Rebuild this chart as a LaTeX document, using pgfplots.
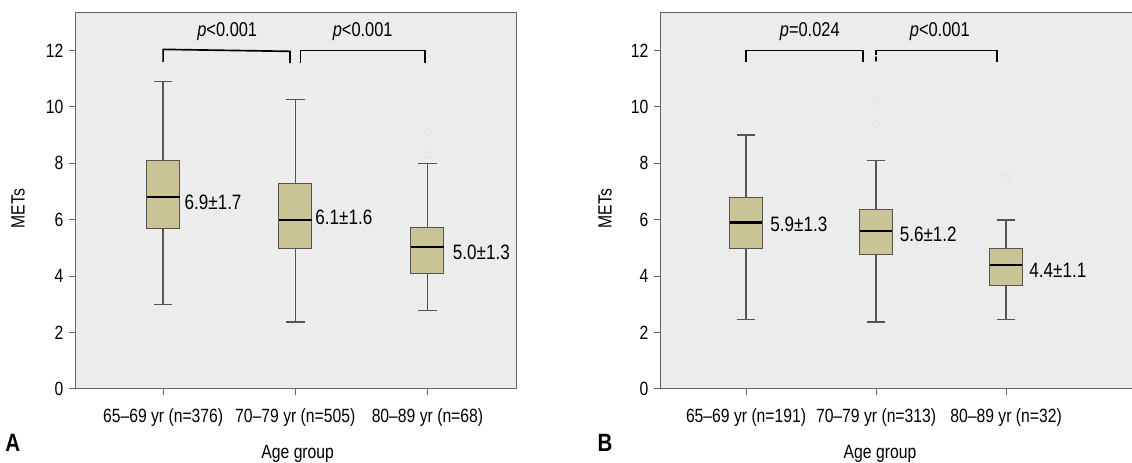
\documentclass[border=0pt]{standalone}
\usepackage{fontspec}
\setmainfont{Liberation Sans}[FakeStretch=0.82]
\usepackage{pgfplots}
\pgfplotsset{compat=1.18}
\usepgfplotslibrary{statistics}
\definecolor{bgGray}{RGB}{236,236,236}
\definecolor{boxFill}{RGB}{201,196,150}
\definecolor{boxLine}{RGB}{85,85,80}
\definecolor{frameGray}{RGB}{100,100,100}
\definecolor{outl}{RGB}{222,230,240}

\pgfplotsset{
  metbox/.style={
    scale only axis,
    height=225.6pt,
    ymin=0, ymax=13.33,
    ytick={0,2,...,12},
    xtick={1,2,3},
    tick align=outside,
    xtick pos=bottom, ytick pos=left,
    major tick length=3.5pt,
    axis background/.style={fill=bgGray},
    axis line style={draw=frameGray, line width=0.6pt},
    every tick/.style={draw=frameGray, line width=0.6pt},
    tick label style={font=\fontsize{11.5}{13}\selectfont},
    /pgf/number format/assume math mode=true,
    xticklabel style={yshift=-5pt},
    label style={font=\fontsize{11.5}{13}\selectfont},
    xlabel={Age group},
    ylabel={METs},
    boxplot/draw direction=y,
    boxplot/box extend=0.25,
    boxplot/whisker extend=0.14,
    boxplot/every box/.style={draw=boxLine, fill=boxFill, line width=0.6pt},
    boxplot/every whisker/.style={draw=boxLine, line width=0.8pt},
    boxplot/every median/.style={draw=black, line width=1.4pt},
    clip=false,
  },
  bx/.style={solid, mark=o, mark size=2pt, mark options={draw=outl, line width=0.8pt}},
}

\begin{document}
\begin{tikzpicture}
% ---------- panel A ----------
\begin{axis}[metbox,
    at={(45pt,44.4pt)}, anchor=south west,
    width=264.6pt,
    xmin=0.333, xmax=3.67,
    xticklabels={65--69 yr (n=376), 70--79 yr (n=505), 80--89 yr (n=68)},
    xlabel style={at={(axis description cs:0.505,-0.173)}, anchor=center},
    ylabel style={at={(axis description cs:-0.129,0.48)}, anchor=center},
]
\addplot[bx, boxplot prepared={draw position=1, lower whisker=3.0, lower quartile=5.68,
    median=6.8, upper quartile=8.1, upper whisker=10.9}] coordinates {};
\addplot[bx, boxplot prepared={draw position=2, lower whisker=2.38, lower quartile=4.99,
    median=5.99, upper quartile=7.29, upper whisker=10.26}] coordinates {};
\addplot[bx, boxplot prepared={draw position=3, lower whisker=2.78, lower quartile=4.08,
    median=5.04, upper quartile=5.73, upper whisker=7.99}]
    table[row sep=\\, y index=0] {y\\ 9.1\\ 8.3\\};

\node[anchor=west, inner sep=0pt, font=\fontsize{12.5}{14}\selectfont] at (axis cs:1.16,6.62) {6.9±1.7};
\node[anchor=west, inner sep=0pt, font=\fontsize{12.5}{14}\selectfont] at (axis cs:2.15,6.10) {6.1±1.6};
\node[anchor=west, inner sep=0pt, font=\fontsize{12.5}{14}\selectfont] at (axis cs:3.19,4.86) {5.0±1.3};

\draw[black, line width=1pt] (axis cs:1,11.6) -- (axis cs:1,12.04) -- (axis cs:1.96,11.97) -- (axis cs:1.96,11.55);
\draw[black, line width=1pt] (axis cs:2.04,11.55) -- (axis cs:2.04,12.0) -- (axis cs:2.98,12.0) -- (axis cs:2.98,11.55);
\node[font=\fontsize{12}{14}\selectfont] at (axis cs:1.485,12.66) {\textit{p}<0.001};
\node[font=\fontsize{12}{14}\selectfont] at (axis cs:2.51,12.66) {\textit{p}<0.001};

\node[font=\fontsize{15}{17}\bfseries\selectfont] at (axis description cs:-0.141,-0.144) {A};
\end{axis}

% ---------- panel B ----------
\begin{axis}[metbox,
    at={(396pt,44.4pt)}, anchor=south west,
    width=300pt,
    xmin=0.338, xmax=4.184,
    xticklabels={65--69 yr (n=191), 70--79 yr (n=313), 80--89 yr (n=32)},
    xlabel style={at={(axis description cs:0.44,-0.173)}, anchor=center},
    ylabel style={at={(axis description cs:-0.11,0.48)}, anchor=center},
]
\addplot[bx, boxplot prepared={draw position=1, lower whisker=2.47, lower quartile=4.99,
    median=5.9, upper quartile=6.78, upper whisker=9.0}] coordinates {};
\addplot[bx, boxplot prepared={draw position=2, lower whisker=2.38, lower quartile=4.78,
    median=5.6, upper quartile=6.38, upper whisker=8.1}]
    table[row sep=\\, y index=0] {y\\ 11.7\\ 10.2\\ 9.4\\};
\addplot[bx, boxplot prepared={draw position=3, lower whisker=2.47, lower quartile=3.68,
    median=4.39, upper quartile=4.99, upper whisker=5.99}]
    table[row sep=\\, y index=0] {y\\ 7.5\\};

\node[anchor=west, inner sep=0pt, font=\fontsize{12.5}{14}\selectfont] at (axis cs:1.185,5.85) {5.9±1.3};
\node[anchor=west, inner sep=0pt, font=\fontsize{12.5}{14}\selectfont] at (axis cs:2.18,5.50) {5.6±1.2};
\node[anchor=west, inner sep=0pt, font=\fontsize{12.5}{14}\selectfont] at (axis cs:3.177,4.22) {4.4±1.1};

\draw[black, line width=1pt] (axis cs:1,11.6) -- (axis cs:1,12.0) -- (axis cs:1.9,12.0) -- (axis cs:1.9,11.6);
\draw[black, line width=1pt] (axis cs:2,11.6) -- (axis cs:2,12.0) -- (axis cs:2.93,12.0) -- (axis cs:2.93,11.6);
\node[font=\fontsize{12}{14}\selectfont] at (axis cs:1.49,12.66) {\textit{p}=0.024};
\node[font=\fontsize{12}{14}\selectfont] at (axis cs:2.49,12.66) {\textit{p}<0.001};

\node[font=\fontsize{15}{17}\bfseries\selectfont] at (axis description cs:-0.11,-0.144) {B};
\end{axis}

\pgfresetboundingbox
\useasboundingbox (0,0) rectangle (679.2pt,277.8pt);
\end{tikzpicture}
\end{document}
